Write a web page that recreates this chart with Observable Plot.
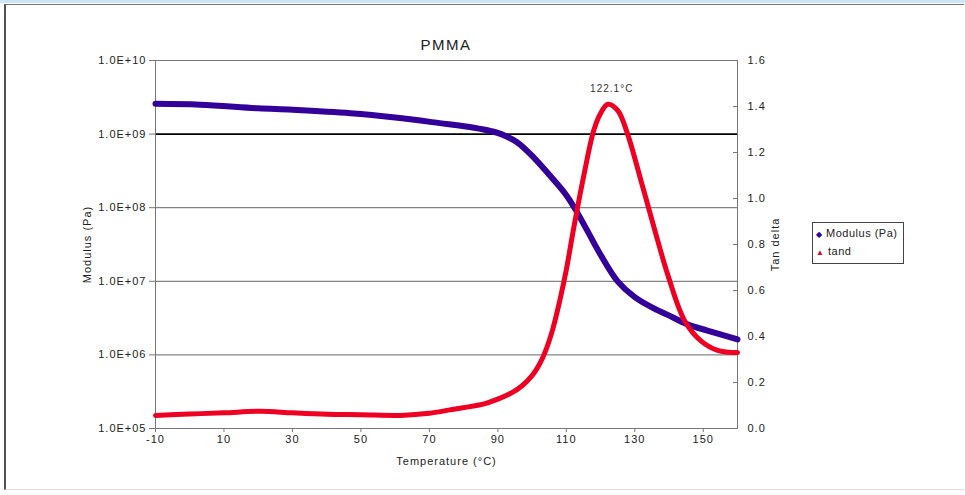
<!DOCTYPE html>
<html>
<head>
<meta charset="utf-8">
<script src="https://cdn.jsdelivr.net/npm/d3@7"></script>
<script src="https://cdn.jsdelivr.net/npm/@observablehq/plot@0.6"></script>
<style>
  html, body { margin: 0; padding: 0; background: #fff; }
  #wrap { position: relative; width: 965px; height: 495px; overflow: hidden; font-family: "Liberation Sans", Arial, sans-serif; }
  #strip { position: absolute; left: 0; top: 0; width: 965px; height: 3px; background: #cfe4f4; }
  #frame { position: absolute; left: 4px; top: 4px; width: 958px; height: 484px; border-left: 2px solid #555; border-top: 1px solid #777; border-bottom: 1px solid #ddd; }
  #title { position: absolute; left: 0; width: 892px; top: 36px; text-align: center; font-size: 15px; letter-spacing: 1.5px; color: #222; }
  #legend { position: absolute; left: 812px; top: 222px; width: 90px; height: 40px; border: 1px solid #444; font-size: 11px; letter-spacing: 0.5px; color: #222; }
  #legend div { position: absolute; left: 3px; white-space: nowrap; }
  #chart { position: absolute; left: 0; top: 0; }
</style>
</head>
<body>
<div id="wrap">
  <div id="strip"></div>
  <div id="frame"></div>
  <div id="chart"></div>
  <div id="title">PMMA</div>
  <div id="legend">
    <div style="top:4px"><span style="color:#330099;font-size:8px">&#9670;</span> Modulus (Pa)</div>
    <div style="top:22px"><span style="color:#ee0022;font-size:8px">&#9650;</span> tand</div>
  </div>
</div>
<script>
// Storage modulus (Pa) vs temperature (°C)
const modTemp = [-10, 3, 20, 30, 47, 60, 73, 83, 88, 91, 95.5, 100.5, 105, 110, 113, 116, 120, 125, 129.8, 134.7, 139.6, 145.4, 151.2, 160];
const modulus = [2.58e9, 2.51e9, 2.24e9, 2.14e9, 1.92e9, 1.68e9, 1.41e9, 1.22e9, 1.10e9, 1.0e9, 7.8e8, 4.8e8, 2.8e8, 1.48e8, 8.9e7, 5.0e7, 2.3e7, 1.0e7, 6.2e6, 4.5e6, 3.5e6, 2.6e6, 2.14e6, 1.62e6];

// Tan delta vs temperature (°C)
const tanTemp = [-10, 0, 10, 20.7, 30, 40, 50, 61.6, 70, 76, 86, 90, 94, 97, 100, 102, 104, 106, 108, 110, 112.2, 115.2, 118, 120, 122.1, 125, 127.9, 131.8, 135.6, 139.6, 144.5, 149.4, 154.2, 160];
const tanDelta = [0.057, 0.063, 0.068, 0.075, 0.068, 0.062, 0.06, 0.057, 0.066, 0.081, 0.107, 0.128, 0.155, 0.185, 0.23, 0.275, 0.34, 0.43, 0.55, 0.69, 0.875, 1.107, 1.296, 1.37, 1.41, 1.383, 1.28, 1.078, 0.875, 0.67, 0.47, 0.38, 0.34, 0.33];

const peakTemp = 122.1;
const peakLabel = "122.1°C";

const tempTicks = [-10, 10, 30, 50, 70, 90, 110, 130, 150];
const modTicks = [1e5, 1e6, 1e7, 1e8, 1e9, 1e10];
const modTickLabels = ["1.0E+05", "1.0E+06", "1.0E+07", "1.0E+08", "1.0E+09", "1.0E+10"];
const tanTicks = [0, 0.2, 0.4, 0.6, 0.8, 1.0, 1.2, 1.4, 1.6];
const tanTickLabels = ["0.0", "0.2", "0.4", "0.6", "0.8", "1.0", "1.2", "1.4", "1.6"];

const modDomain = [1e5, 1e10];
const tanDomain = [0, 1.6];
// the y scale is linear in decades (log10 of modulus); tan delta is mapped linearly onto it
const lo = Math.log10(modDomain[0]), hi = Math.log10(modDomain[1]);
const decade = v => Math.log10(v);
const tanToY = t => lo + (hi - lo) * (t - tanDomain[0]) / (tanDomain[1] - tanDomain[0]);

const modData = modTemp.map((t, i) => ({t, v: decade(modulus[i])}));
const tanData = tanTemp.map((t, i) => ({t, v: tanToY(tanDelta[i])}));
const peakIdx = tanTemp.indexOf(peakTemp);
const peakData = [{t: peakTemp, v: tanToY(tanDelta[peakIdx]), label: peakLabel}];

const leftTicks = modTicks.map(decade);
const rightTicks = tanTicks.map(tanToY);
const nearestIdx = (arr, d) => { let b = 0; arr.forEach((v, i) => { if (Math.abs(v - d) < Math.abs(arr[b] - d)) b = i; }); return b; };

const blue = "#330099";
const red = "#ee0022";

const chart = Plot.plot({
  width: 965,
  height: 495,
  marginLeft: 155,
  marginRight: 228,
  marginTop: 60,
  marginBottom: 67,
  style: {fontFamily: "'Liberation Sans', Arial, sans-serif", fontSize: "11px", color: "#222", letterSpacing: "1px", background: "transparent"},
  x: {domain: [-10, 160]},
  y: {type: "linear", domain: [lo, hi]},
  marks: [
    Plot.ruleY(leftTicks.filter(d => d !== 9 && d !== 5), {stroke: "#666", strokeWidth: 1}),
    Plot.ruleY([decade(1e9)], {stroke: "#000", strokeWidth: 1.6}),
    Plot.frame({stroke: "#777"}),
    Plot.axisX(tempTicks, {tickSize: 4, tickPadding: 3, stroke: "#777", tickFormat: d => String(d), label: "Temperature (°C)", labelAnchor: "center", labelOffset: 36, labelArrow: "none"}),
    Plot.axisY(leftTicks, {anchor: "left", tickSize: 6, tickPadding: 3, stroke: "#777", tickFormat: d => modTickLabels[nearestIdx(leftTicks, d)], label: "Modulus (Pa)", labelAnchor: "center", labelOffset: 72, labelArrow: "none"}),
    Plot.axisY(rightTicks, {anchor: "right", tickSize: -5, tickPadding: 15, stroke: "#777", tickFormat: d => tanTickLabels[nearestIdx(rightTicks, d)], label: "Tan delta", labelAnchor: "center", labelOffset: 41, labelArrow: "none"}),
    Plot.line(modData, {x: "t", y: "v", stroke: blue, strokeWidth: 6, curve: "catmull-rom"}),
    Plot.line(tanData, {x: "t", y: "v", stroke: red, strokeWidth: 5, curve: "catmull-rom"}),
    Plot.text(peakData, {x: "t", y: "v", text: "label", dy: -15, dx: 4, fontSize: 10, fill: "#333"})
  ]
});
document.getElementById("chart").appendChild(chart);
</script>
</body>
</html>
